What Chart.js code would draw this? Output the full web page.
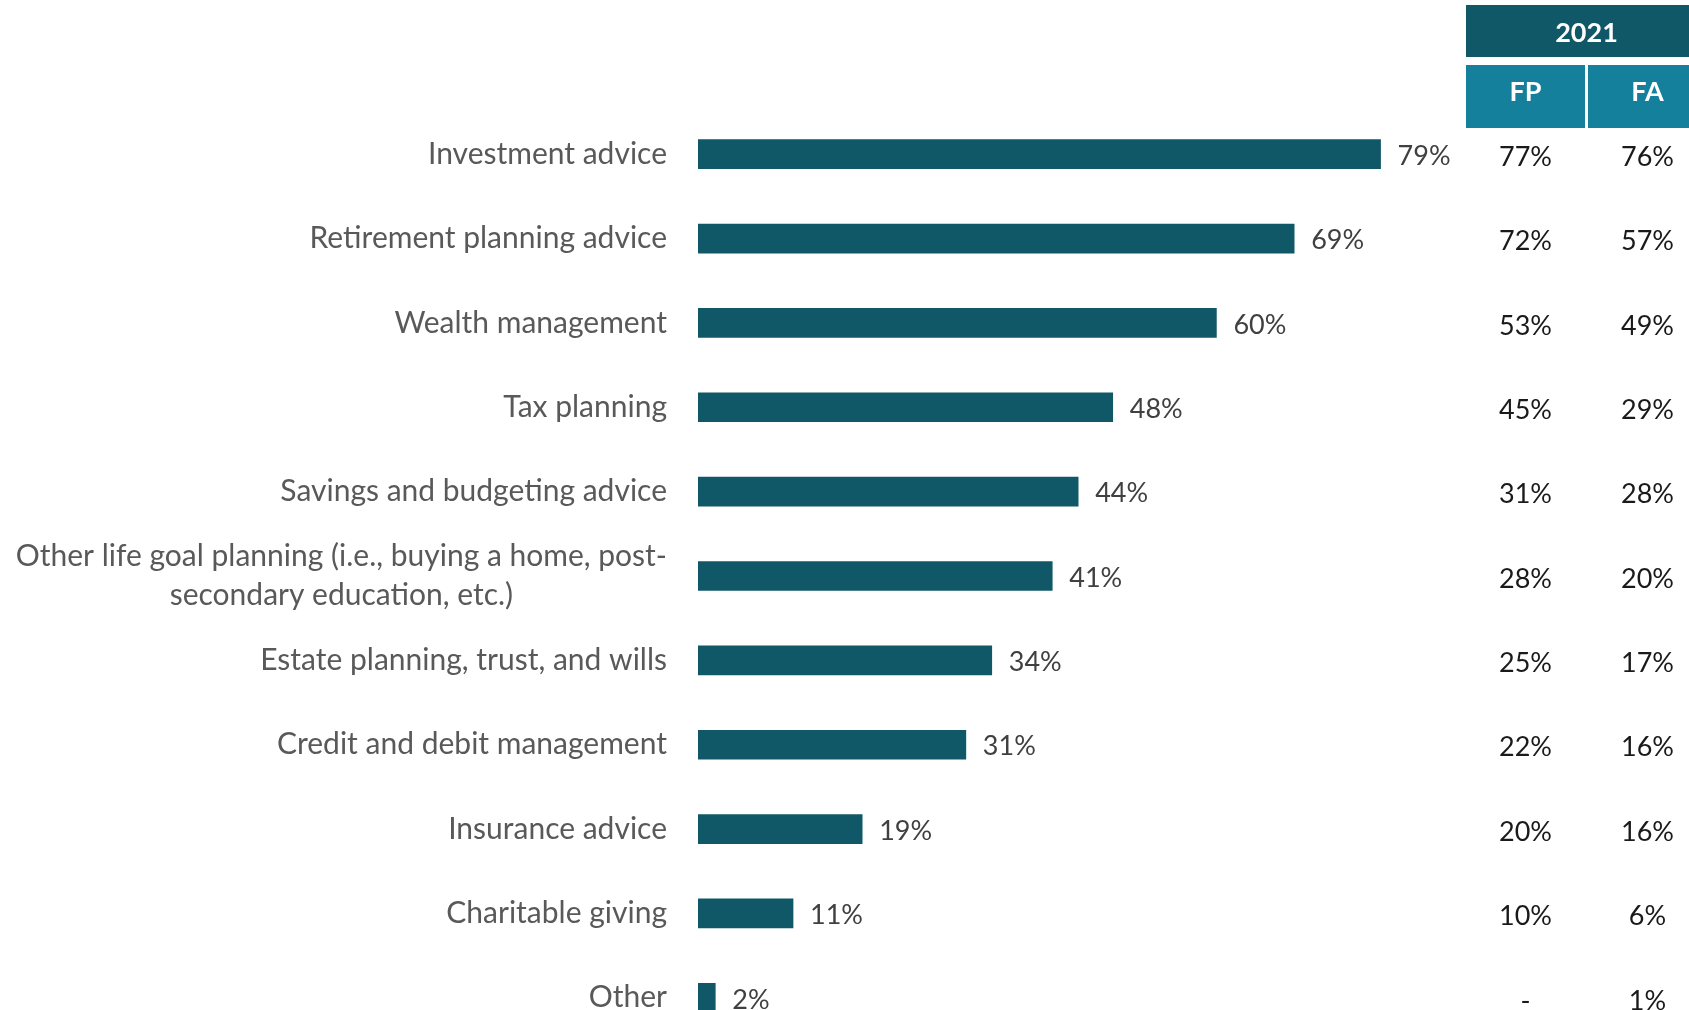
<!DOCTYPE html>
<html>
<head>
<meta charset="utf-8">
<title>Services offered</title>
<script src="https://cdn.jsdelivr.net/npm/chart.js@4.4.1/dist/chart.umd.min.js"></script>
<style>
  html, body { margin: 0; padding: 0; background: #fff; overflow: hidden; }
  canvas { display: block; }
</style>
</head>
<body>
<canvas id="servicesChart" width="1689" height="1050"></canvas>
<script>
var ctx = document.querySelector('#servicesChart');

var serviceLabels = [
  'Investment advice',
  'Retirement planning advice',
  'Wealth management',
  'Tax planning',
  'Savings and budgeting advice',
  ['Other life goal planning (i.e., buying a home, post-', 'secondary education, etc.)'],
  'Estate planning, trust, and wills',
  'Credit and debit management',
  'Insurance advice',
  'Charitable giving',
  'Other'
];
var currentValues = [79, 69, 60, 48, 44, 41, 34, 31, 19, 11, 2];
var fpValues2021 = ['77%', '72%', '53%', '45%', '31%', '28%', '25%', '22%', '20%', '10%', '-'];
var faValues2021 = ['76%', '57%', '49%', '29%', '28%', '20%', '17%', '16%', '16%', '6%', '1%'];
var tableYear = '2021';
var tableColumns = ['FP', 'FA'];

const COLOR_BAR = '#105868';
const COLOR_HEADER_DARK = '#105868';
const COLOR_HEADER_LIGHT = '#14809b';
const COLOR_LABEL = '#595959';
const COLOR_VALUE = '#404040';
const FONT_FAMILY = 'Lato, "Open Sans", sans-serif';
const FONT_SIZE = 27;
const LABEL_FONT_SIZE = 30;

// category names to the left of the bars, multi-line ones centred in their block
const categoryLabels = {
  id: 'categoryLabels',
  afterDraw(chart) {
    var c = chart.ctx;
    var yScale = chart.scales.y;
    var rightEdge = chart.chartArea.left - 31;
    c.save();
    c.font = LABEL_FONT_SIZE + 'px ' + FONT_FAMILY;
    c.fillStyle = COLOR_LABEL;
    c.textBaseline = 'middle';
    chart.data.labels.forEach(function(label, i) {
      var y = yScale.getPixelForValue(i);
      if (Array.isArray(label)) {
        var widest = Math.max.apply(null, label.map(function(l){ return c.measureText(l).width; }));
        var cx = rightEdge - widest / 2;
        var lineHeight = 39;
        c.textAlign = 'center';
        label.forEach(function(line, k) {
          c.fillText(line, cx, y + (k - (label.length - 1) / 2) * lineHeight);
        });
      } else {
        c.textAlign = 'right';
        c.fillText(label, rightEdge, y);
      }
    });
    c.restore();
  }
};

// percentage next to the end of each bar
const barValueLabels = {
  id: 'barValueLabels',
  afterDatasetsDraw(chart) {
    var c = chart.ctx;
    var meta = chart.getDatasetMeta(0);
    c.save();
    c.font = FONT_SIZE + 'px ' + FONT_FAMILY;
    c.fillStyle = COLOR_VALUE;
    c.textAlign = 'left';
    c.textBaseline = 'middle';
    meta.data.forEach(function(bar, i) {
      c.fillText(chart.data.datasets[0].data[i] + '%', bar.x + 17, bar.y + 2);
    });
    c.restore();
  }
};

// small comparison table on the right (2021 FP / FA)
const comparisonTable = {
  id: 'comparisonTable',
  afterDraw(chart) {
    var c = chart.ctx;
    var yScale = chart.scales.y;
    var left = 1466, colW = 119, gap = 3;
    var colCenters = [left + colW / 2, left + colW + gap + colW / 2];
    c.save();
    c.fillStyle = COLOR_HEADER_DARK;
    c.fillRect(left, 5, colW * 2 + gap, 52);
    c.fillStyle = COLOR_HEADER_LIGHT;
    c.fillRect(left, 65, colW, 63);
    c.fillRect(left + colW + gap, 65, colW, 63);

    c.fillStyle = '#ffffff';
    c.textAlign = 'center';
    c.textBaseline = 'middle';
    c.font = 'bold 27px ' + FONT_FAMILY;
    c.fillText(tableYear, left + colW + gap / 2, 33);
    tableColumns.forEach(function(name, k) {
      c.fillText(name, colCenters[k], 92);
    });

    c.font = FONT_SIZE + 'px ' + FONT_FAMILY;
    c.fillStyle = '#1a1a1a';
    fpValues2021.forEach(function(v, i) {
      var y = yScale.getPixelForValue(i) + 3;
      c.fillText(v, colCenters[0], y);
      c.fillText(faValues2021[i], colCenters[1], y);
    });
    c.restore();
  }
};

var servicesChart = new Chart(ctx, {
  type: 'bar',
  data: {
    labels: serviceLabels,
    datasets: [{
      data: currentValues,
      backgroundColor: COLOR_BAR,
      borderWidth: 0,
      barThickness: 29
    }]
  },
  options: {
    indexAxis: 'y',
    responsive: false,
    animation: false,
    layout: {
      padding: { left: 698, right: 127, top: 112, bottom: 10 }
    },
    plugins: {
      legend: { display: false },
      tooltip: { enabled: false }
    },
    scales: {
      x: {
        display: false,
        min: 0,
        max: 100
      },
      y: {
        display: false
      }
    }
  },
  plugins: [categoryLabels, barValueLabels, comparisonTable]
});
</script>
</body>
</html>
